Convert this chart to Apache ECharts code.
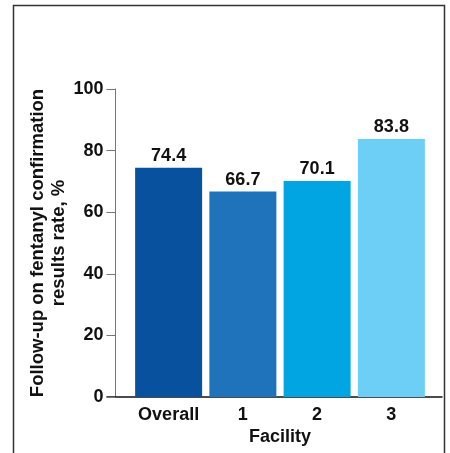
<!DOCTYPE html>
<html>
<head>
<meta charset="utf-8">
<script src="https://cdn.jsdelivr.net/npm/echarts@6/dist/echarts.min.js"></script>
<style>
  html, body { margin: 0; padding: 0; background: #fff; }
  #main { width: 450px; height: 453px; }
</style>
</head>
<body>
<div id="main"></div>
<script>
const categories = ['Overall', '1', '2', '3'];
const rates = [74.4, 66.7, 70.1, 83.8];
const barColors = ['#07519e', '#1f73ba', '#00a5e1', '#6dcff6'];
const yTicks = [0, 20, 40, 60, 80, 100];

const chart = echarts.init(document.getElementById('main'), null, { renderer: 'canvas' });
const font = '"Liberation Sans", Arial, Helvetica, sans-serif';

var option = {
  backgroundColor: '#ffffff',
  animation: false,
  textStyle: { fontFamily: font },
  grid: [
    { left: 131.5, right: 21.5, top: 89, bottom: 56 },
    // wider grid only used for the baseline that runs past the y axis
    { left: 107, right: 8, top: 89, bottom: 56 }
  ],
  xAxis: [{
    type: 'category',
    gridIndex: 0,
    data: categories,
    name: 'Facility',
    nameLocation: 'middle',
    nameGap: 31,
    nameMoveOverlap: false,
    nameTextStyle: { fontSize: 18, fontWeight: 'bold', color: '#111', fontFamily: font },
    axisLine: { show: false },
    axisTick: { show: false },
    axisLabel: { interval: 0, margin: 9, fontSize: 18, fontWeight: 'bold', color: '#111', fontFamily: font }
  }, {
    type: 'category',
    gridIndex: 1,
    data: [''],
    axisLine: { show: true, lineStyle: { color: '#111', width: 1.5 } },
    axisTick: { show: false },
    axisLabel: { show: false }
  }],
  yAxis: [{
    type: 'value',
    gridIndex: 0,
    min: yTicks[0],
    max: yTicks[yTicks.length - 1],
    interval: 20,
    offset: 16,
    name: 'Follow-up on fentanyl confirmation\nresults rate, %',
    nameLocation: 'middle',
    nameGap: 46,
    nameMoveOverlap: false,
    nameTextStyle: { fontSize: 18.5, fontWeight: 'bold', color: '#111', lineHeight: 21, fontFamily: font },
    splitLine: { show: false },
    axisLine: { show: true, lineStyle: { color: '#777', width: 1 } },
    axisTick: { show: true, length: 9, lineStyle: { color: '#777' } },
    axisLabel: { margin: 12, fontSize: 18, fontWeight: 'bold', color: '#111', fontFamily: font }
  }, {
    type: 'value',
    gridIndex: 1,
    min: 0,
    max: 100,
    show: false
  }],
  series: [{
    type: 'bar',
    xAxisIndex: 0,
    yAxisIndex: 0,
    barWidth: 67,
    data: rates.map((v, i) => ({ value: v, itemStyle: { color: barColors[i] } })),
    label: {
      show: true,
      position: 'top',
      distance: 3,
      fontSize: 18,
      fontWeight: 'bold',
      color: '#111',
      fontFamily: font,
      formatter: p => p.value.toFixed(1)
    }
  }],
  graphic: [{
    type: 'polyline',
    silent: true,
    shape: { points: [[13.5, 453], [13.5, 5.5], [444.5, 5.5], [444.5, 453]] },
    style: { stroke: '#333', lineWidth: 1.5, fill: null }
  }]
};

chart.setOption(option);
</script>
</body>
</html>
